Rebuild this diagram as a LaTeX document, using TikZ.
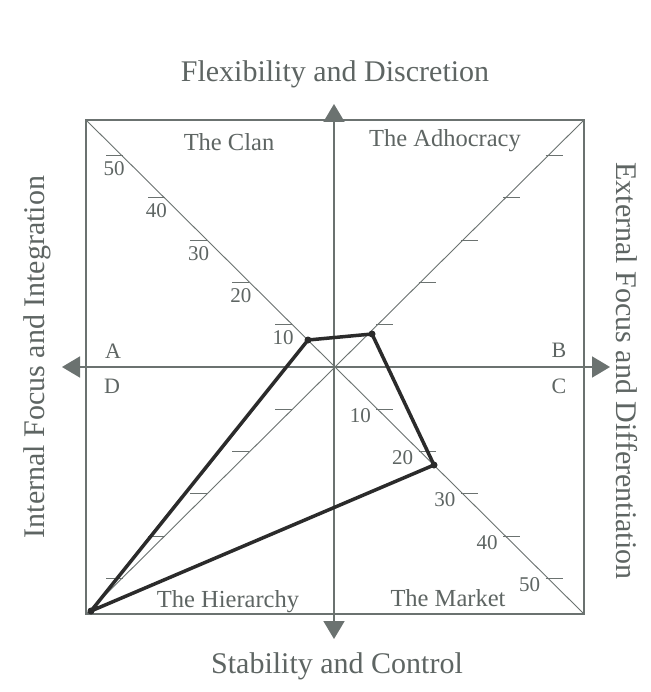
\documentclass[tikz,border=0pt]{standalone}
\usepackage{fontspec}
\setmainfont{Liberation Serif}
\usetikzlibrary{arrows.meta,calc}
\definecolor{ln}{HTML}{6B7270}
\definecolor{tx}{HTML}{5E6563}
\definecolor{pl}{HTML}{2B2B2B}
\begin{document}
\begin{tikzpicture}[x=1pt,y=-1pt,
  axisline/.style={draw=ln, line width=1.8pt, {Triangle[length=18pt,width=21pt]}-{Triangle[length=18pt,width=21pt]}},
  frameline/.style={draw=ln, line width=1.4pt},
  diagline/.style={draw=ln, line width=0.9pt},
  tickline/.style={draw=ln, line width=1pt},
  bigtext/.style={text=tx, font=\fontsize{30}{30}\selectfont, inner sep=0pt, anchor=base},
  quadtext/.style={text=tx, font=\fontsize{24.5}{25}\selectfont, inner sep=0pt, anchor=base},
  lettertext/.style={text=tx, font=\fontsize{22}{22}\selectfont, inner sep=0pt, anchor=base},
  numtext/.style={text=tx, font=\fontsize{21}{21}\selectfont, inner sep=0pt, anchor=base},
  polyline/.style={draw=pl, line width=3.5pt, line join=round},
  vdot/.style={circle, fill=pl, inner sep=0pt, minimum size=7pt}]
\useasboundingbox (0,0) rectangle (650,692);
\fill[white] (0,0) rectangle (650,692);

% frame corners and centre
\coordinate (O) at (334,367);
\coordinate (TL) at (86,120);
\coordinate (TR) at (584,120);
\coordinate (BR) at (584,614);
\coordinate (BL) at (86,614);

\draw[frameline] (TL) -- (TR) -- (BR) -- (BL) -- cycle;
\draw[diagline] (TL) -- (BR);
\draw[diagline] (TR) -- (BL);

% axes
\coordinate (Atop) at (334,104);
\coordinate (Abot) at (334,639);
\coordinate (Aleft) at (62,367);
\coordinate (Aright) at (610,367);
\draw[axisline] (Abot) -- (Atop);
\draw[axisline] (Aleft) -- (Aright);

% ticks
\foreach \v in {1,...,5} {
  \pgfmathsetmacro{\d}{\v*42.3}
  \draw[tickline] ($(O)+(-\d,-\d)$) -- ++(-17,0);
  \draw[tickline] ($(O)+(\d,-\d)$) -- ++(17,0);
  \draw[tickline] ($(O)+(\d,\d)$) -- ++(17,0);
  \draw[tickline] ($(O)+(-\d,\d)$) -- ++(-17,0);
  \pgfmathtruncatemacro{\lab}{\v*10}
  \node[numtext] (ul\v) at ($(O)+(-\d-8.5,-\d+20)$) {\lab};
  \node[numtext] (lr\v) at ($(O)+(\d-16,\d+13)$) {\lab};
}

% profile polygon
\coordinate (P1) at (308,340);
\coordinate (P2) at (372,334);
\coordinate (P3) at (434,465);
\coordinate (P4) at (91,611);
\draw[polyline] (P1) -- (P2) -- (P3) -- (P4) -- cycle;
\node[vdot] (d1) at (P1) {};
\node[vdot] (d2) at (P2) {};
\node[vdot] (d3) at (P3) {};
\node[vdot] (d4) at (P4) {};

% axis titles
\node[bigtext] (flex) at (335,82) {Flexibility and Discretion};
\node[bigtext] (stab) at (337,673) {Stability and Control};
\node[bigtext, rotate=90] (intf) at (44,357) {Internal Focus and Integration};
\node[bigtext, rotate=-90] (extf) at (616,371) {External Focus and Differentiation};

% quadrant labels
\node[quadtext] (clan) at (229,151) {The Clan};
\node[quadtext] (adho) at (445,147) {The Adhocracy};
\node[quadtext] (hier) at (228,607) {The Hierarchy};
\node[quadtext] (mark) at (448,606) {The Market};

% corner letters
\node[lettertext] (la) at (113,358) {A};
\node[lettertext] (lb) at (559,357) {B};
\node[lettertext] (lc) at (559,393) {C};
\node[lettertext] (ld) at (112,393) {D};
\end{tikzpicture}
\end{document}
